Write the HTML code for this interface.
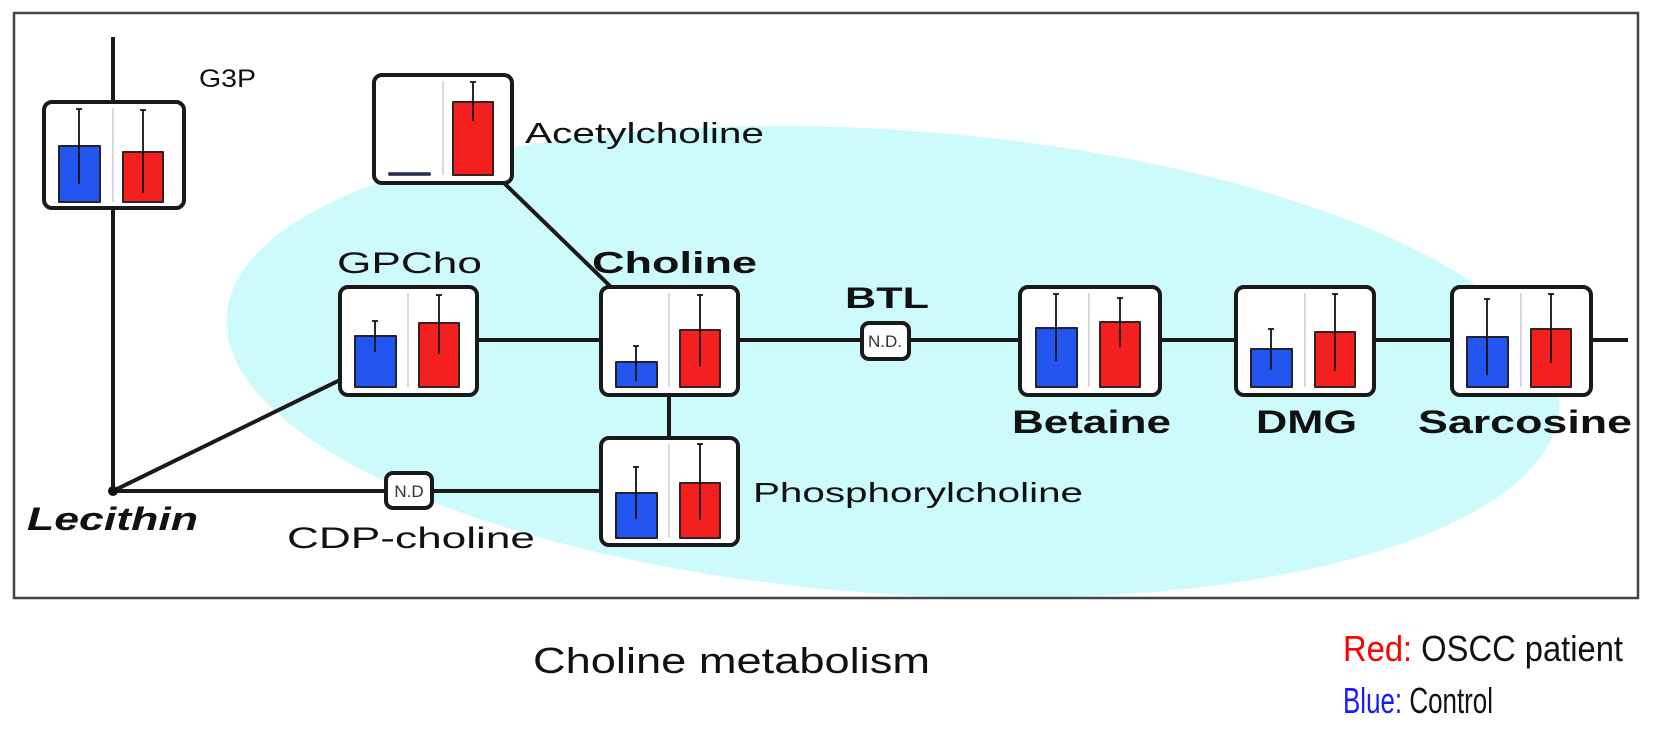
<!DOCTYPE html>
<html><head><meta charset="utf-8"><style>html,body{margin:0;padding:0;background:#fff}svg{display:block}</style></head>
<body>
<svg width="1654" height="731" viewBox="0 0 1654 731" xmlns="http://www.w3.org/2000/svg" font-family="Liberation Sans, Arial, sans-serif">
<rect x="0" y="0" width="1654" height="731" fill="#fff"/>
<ellipse cx="893" cy="362" rx="668" ry="232" transform="rotate(4 893 362)" fill="#cdfbfb"/>
<rect x="14" y="13" width="1624" height="585" fill="none" stroke="#444" stroke-width="2.5"/>
<g stroke="#1a1a1a" stroke-width="4" fill="none">
<line x1="113" y1="37" x2="113" y2="491"/>
<line x1="113" y1="491" x2="342" y2="379"/>
<line x1="113" y1="491" x2="601" y2="491"/>
<line x1="503" y1="182" x2="612" y2="288"/>
<line x1="477" y1="340" x2="601" y2="340"/>
<line x1="738" y1="340" x2="1628" y2="340"/>
<line x1="669" y1="395" x2="669" y2="438"/>
</g>
<g stroke="#1a1a1a" stroke-width="4" fill="#fff">
<rect x="386" y="473" width="46" height="35" rx="7"/>
<rect x="862" y="323" width="47" height="36" rx="7"/>
</g>
<g font-size="17" fill="#333" text-anchor="middle">
<text x="409" y="497">N.D</text>
<text x="885" y="347">N.D.</text>
</g>
<g fill="#111">
<text x="199" y="87" font-size="25" textLength="57" lengthAdjust="spacingAndGlyphs">G3P</text>
<text x="525" y="143" font-size="29" textLength="239" lengthAdjust="spacingAndGlyphs">Acetylcholine</text>
<text x="337" y="273" font-size="30" textLength="145" lengthAdjust="spacingAndGlyphs">GPCho</text>
<text x="592" y="273" font-size="31" font-weight="bold" textLength="165" lengthAdjust="spacingAndGlyphs">Choline</text>
<text x="845" y="308" font-size="30" font-weight="bold" textLength="84" lengthAdjust="spacingAndGlyphs">BTL</text>
<text x="1012" y="433" font-size="32" font-weight="bold" textLength="159" lengthAdjust="spacingAndGlyphs">Betaine</text>
<text x="1256" y="433" font-size="32" font-weight="bold" textLength="101" lengthAdjust="spacingAndGlyphs">DMG</text>
<text x="1418" y="433" font-size="32" font-weight="bold" textLength="214" lengthAdjust="spacingAndGlyphs">Sarcosine</text>
<text x="27" y="530" font-size="32" font-weight="bold" font-style="italic" textLength="171" lengthAdjust="spacingAndGlyphs">Lecithin</text>
<text x="287" y="548" font-size="30" textLength="248" lengthAdjust="spacingAndGlyphs">CDP-choline</text>
<text x="753" y="502" font-size="28" textLength="330" lengthAdjust="spacingAndGlyphs">Phosphorylcholine</text>
<text x="533" y="673" font-size="36" textLength="397" lengthAdjust="spacingAndGlyphs">Choline metabolism</text>
<text x="1343" y="661" font-size="36" textLength="280" lengthAdjust="spacingAndGlyphs"><tspan fill="#f00">Red:</tspan> OSCC patient</text>
<text x="1343" y="713" font-size="36" textLength="150" lengthAdjust="spacingAndGlyphs"><tspan fill="#1a1aff">Blue:</tspan> Control</text>
</g>
<g stroke-linejoin="round">
<g transform="translate(44,102)">
<rect x="0" y="0" width="140" height="106" rx="8" fill="#fff" stroke="#1a1a1a" stroke-width="4"/>
<line x1="69" y1="6" x2="69" y2="100" stroke="#ccc" stroke-width="1.5"/>
<rect x="15" y="44" width="41" height="56" fill="#2356f0" stroke="#223" stroke-width="2"/>
<rect x="79" y="50" width="40" height="50" fill="#f42020" stroke="#322" stroke-width="2"/>
<path d="M35 7V82M32 7h6M99 8V91M96 8h6" stroke="#111" stroke-width="1.8"/>
</g>
<g transform="translate(374,75)">
<rect x="0" y="0" width="138" height="108" rx="8" fill="#fff" stroke="#1a1a1a" stroke-width="4"/>
<line x1="69" y1="6" x2="69" y2="100" stroke="#ccc" stroke-width="1.5"/>
<rect x="15" y="98" width="41" height="2" fill="#2356f0" stroke="#223" stroke-width="1.5"/>
<rect x="79" y="27" width="40" height="73" fill="#f42020" stroke="#322" stroke-width="2"/>
<path d="M99 7V46M96 7h6" stroke="#111" stroke-width="1.8"/>
</g>
<g transform="translate(340,287)">
<rect x="0" y="0" width="137" height="108" rx="8" fill="#fff" stroke="#1a1a1a" stroke-width="4"/>
<line x1="68" y1="6" x2="68" y2="100" stroke="#ccc" stroke-width="1.5"/>
<rect x="15" y="49" width="41" height="51" fill="#2356f0" stroke="#223" stroke-width="2"/>
<rect x="79" y="36" width="40" height="64" fill="#f42020" stroke="#322" stroke-width="2"/>
<path d="M35 34V65M32 34h6M99 8V67M96 8h6" stroke="#111" stroke-width="1.8"/>
</g>
<g transform="translate(601,287)">
<rect x="0" y="0" width="137" height="108" rx="8" fill="#fff" stroke="#1a1a1a" stroke-width="4"/>
<line x1="68" y1="6" x2="68" y2="100" stroke="#ccc" stroke-width="1.5"/>
<rect x="15" y="75" width="41" height="25" fill="#2356f0" stroke="#223" stroke-width="2"/>
<rect x="79" y="43" width="40" height="57" fill="#f42020" stroke="#322" stroke-width="2"/>
<path d="M35 59V94M32 59h6M99 8V79M96 8h6" stroke="#111" stroke-width="1.8"/>
</g>
<g transform="translate(601,438)">
<rect x="0" y="0" width="137" height="107" rx="8" fill="#fff" stroke="#1a1a1a" stroke-width="4"/>
<line x1="68" y1="6" x2="68" y2="100" stroke="#ccc" stroke-width="1.5"/>
<rect x="15" y="55" width="41" height="45" fill="#2356f0" stroke="#223" stroke-width="2"/>
<rect x="79" y="45" width="40" height="55" fill="#f42020" stroke="#322" stroke-width="2"/>
<path d="M35 29V81M32 29h6M99 6V82M96 6h6" stroke="#111" stroke-width="1.8"/>
</g>
<g transform="translate(1020,287)">
<rect x="0" y="0" width="140" height="108" rx="8" fill="#fff" stroke="#1a1a1a" stroke-width="4"/>
<line x1="69" y1="6" x2="69" y2="100" stroke="#ccc" stroke-width="1.5"/>
<rect x="16" y="41" width="41" height="59" fill="#2356f0" stroke="#223" stroke-width="2"/>
<rect x="80" y="35" width="40" height="65" fill="#f42020" stroke="#322" stroke-width="2"/>
<path d="M36 7V74M33 7h6M100 11V60M97 11h6" stroke="#111" stroke-width="1.8"/>
</g>
<g transform="translate(1236,287)">
<rect x="0" y="0" width="138" height="108" rx="8" fill="#fff" stroke="#1a1a1a" stroke-width="4"/>
<line x1="69" y1="6" x2="69" y2="100" stroke="#ccc" stroke-width="1.5"/>
<rect x="15" y="62" width="41" height="38" fill="#2356f0" stroke="#223" stroke-width="2"/>
<rect x="79" y="45" width="40" height="55" fill="#f42020" stroke="#322" stroke-width="2"/>
<path d="M35 42V83M32 42h6M99 7V84M96 7h6" stroke="#111" stroke-width="1.8"/>
</g>
<g transform="translate(1452,287)">
<rect x="0" y="0" width="139" height="108" rx="8" fill="#fff" stroke="#1a1a1a" stroke-width="4"/>
<line x1="69" y1="6" x2="69" y2="100" stroke="#ccc" stroke-width="1.5"/>
<rect x="15" y="50" width="41" height="50" fill="#2356f0" stroke="#223" stroke-width="2"/>
<rect x="79" y="42" width="40" height="58" fill="#f42020" stroke="#322" stroke-width="2"/>
<path d="M35 12V88M32 12h6M99 7V76M96 7h6" stroke="#111" stroke-width="1.8"/>
</g>
</g>
<circle cx="113" cy="491" r="5" fill="#111"/>
</svg>
</body></html>
